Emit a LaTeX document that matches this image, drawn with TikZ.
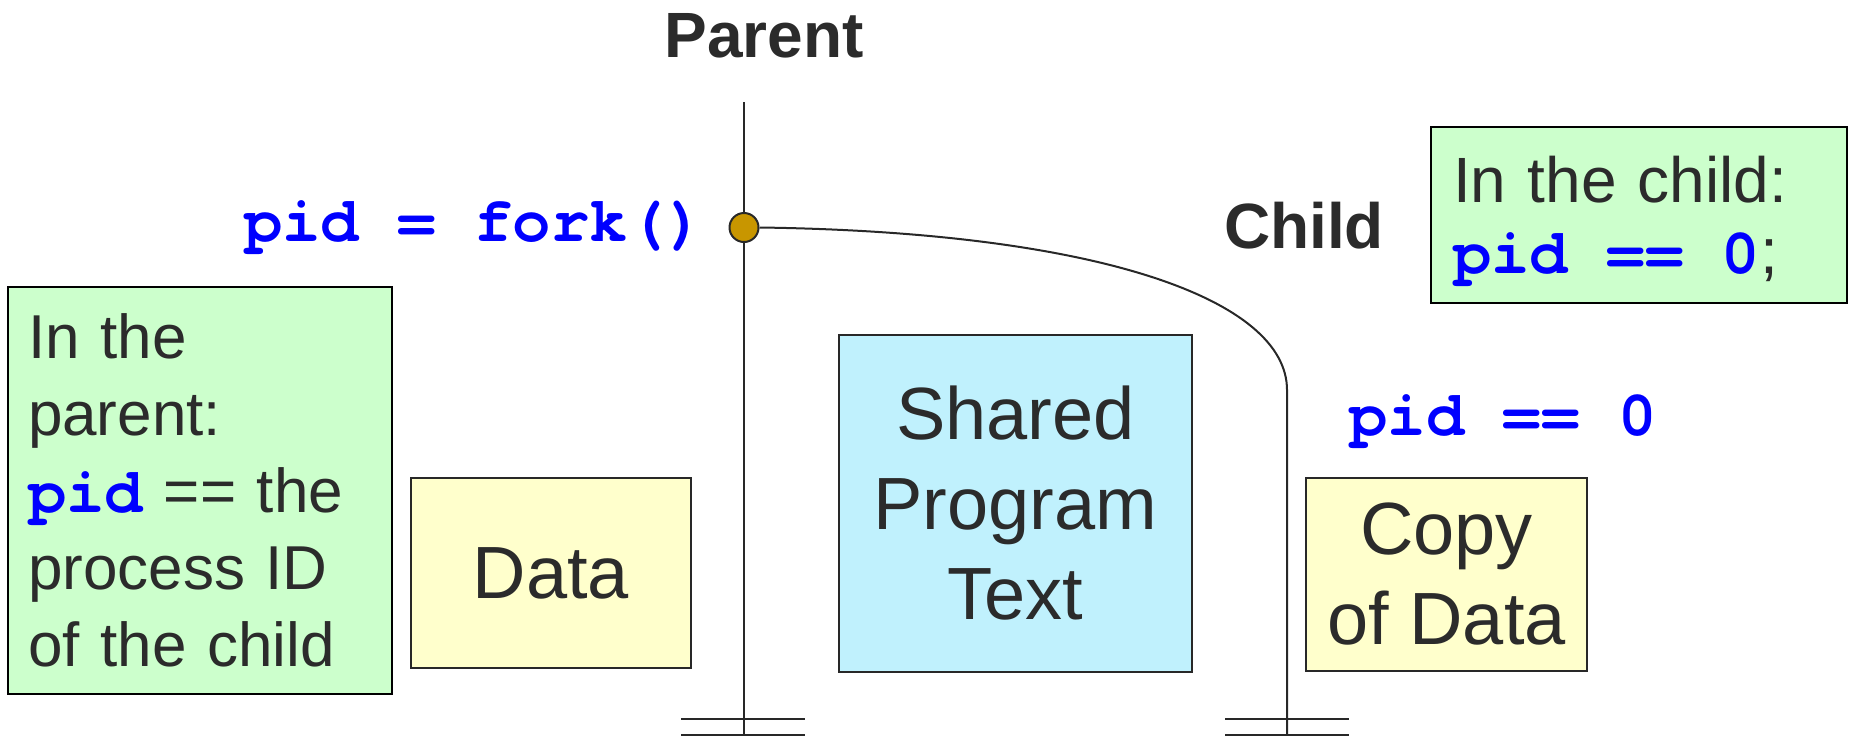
\documentclass[tikz,border=0pt]{standalone}
\usepackage{fontspec}
\setmainfont{Liberation Sans}
\newfontfamily\codefont{texgyrecursor}[Extension=.otf, UprightFont=*-regular, BoldFont=*-bold]
\usetikzlibrary{shapes.geometric}
\definecolor{txt}{RGB}{43,43,43}
\definecolor{ln}{RGB}{40,40,40}
\definecolor{gfill}{RGB}{204,255,204}
\definecolor{yfill}{RGB}{255,255,204}
\definecolor{bfill}{RGB}{192,241,253}
\definecolor{forkc}{RGB}{200,150,0}
\definecolor{codeblue}{RGB}{0,0,255}
\newcommand{\codetxt}[1]{{\fontsize{64pt}{71pt}\codefont\bfseries\spaceskip=0pt\xspaceskip=0pt\relax\color{codeblue}#1}}
\begin{document}
\begin{tikzpicture}[x=1pt,y=-1pt,
  wire/.style={draw=ln, line width=2pt},
  gnd/.style={draw=ln, line width=2.5pt},
  box/.style={draw=ln, line width=2pt, inner sep=0pt, text=txt, align=center,
    font=\fontsize{74}{90}\selectfont},
  notebox/.style={draw=black, line width=2pt, fill=gfill, text=txt, align=left,
    inner ysep=0pt},
  title/.style={text=txt, font=\fontsize{64}{70}\selectfont\bfseries, inner sep=0pt},
  code/.style={text=codeblue, font=\fontsize{64}{70}\selectfont\codefont\bfseries, inner sep=0pt}]
\useasboundingbox (0,0) rectangle (1852,740);

% titles
\node[title, anchor=base] (parent) at (764,57) {Parent};
\node[title, anchor=base] (child) at (1304,248) {Child};

% code labels
\node[code, anchor=base east] (forklbl) at (705,241) {pid = fork()};
\node[code, anchor=base west] (pidzero) at (1349,435) {pid == 0};

% boxes
\node[box, fill=yfill, minimum width=280, minimum height=190] (data) at (551,573) {Data};
\node[box, fill=bfill, minimum width=353, minimum height=337] (shared) at (1015.5,503.5) {Shared\\Program\\Text};
\node[box, fill=yfill, minimum width=281, minimum height=193] (copy) at (1446.5,574.5) {Copy\\of Data};

\node[notebox, inner xsep=20pt, text width=344pt, minimum height=407,
  font=\fontsize{62}{77}\selectfont] (pnote) at (200,490.5)
  {In the\\parent:\\\codetxt{pid} == the\\process ID\\of the child};
\node[notebox, inner xsep=22pt, text width=372pt, minimum height=176,
  font=\fontsize{64}{71}\selectfont] (cnote) at (1639,215)
  {\rule{0pt}{59pt}In the child:\\\codetxt{pid == 0};};

% process lines
\coordinate (ptop) at (744,102);
\coordinate (pbot) at (744,735);
\coordinate (cbend) at (1287,390);
\coordinate (cbot) at (1287,735);
\draw[wire] (ptop) -- (pbot);
\node[draw=ln, line width=2pt, fill=forkc, circle, minimum size=29, inner sep=0pt] (fork) at (744,227.5) {};
\draw[wire] (fork.east) .. controls (1100,232) and (1287,300) .. (cbend) -- (cbot);

% grounds
\coordinate (pg1l) at (681,719); \coordinate (pg1r) at (805,719);
\coordinate (pg2l) at (681,735); \coordinate (pg2r) at (805,735);
\coordinate (cg1l) at (1225,719); \coordinate (cg1r) at (1349,719);
\coordinate (cg2l) at (1225,735); \coordinate (cg2r) at (1349,735);
\draw[gnd] (pg1l) -- (pg1r);
\draw[gnd] (pg2l) -- (pg2r);
\draw[gnd] (cg1l) -- (cg1r);
\draw[gnd] (cg2l) -- (cg2r);
\end{tikzpicture}
\end{document}
